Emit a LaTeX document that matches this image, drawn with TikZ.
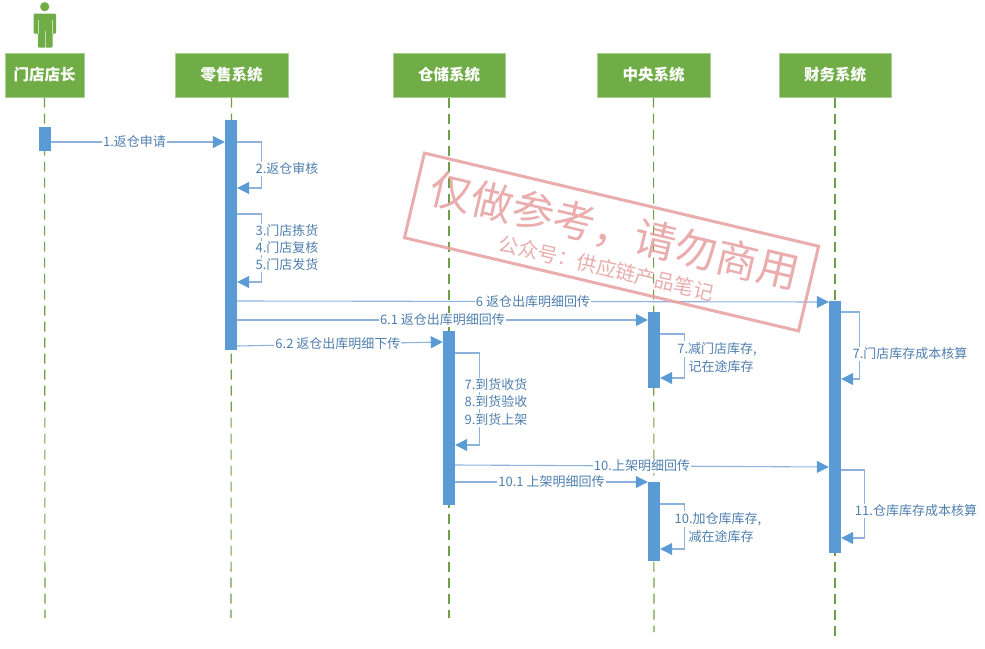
\documentclass[tikz,border=0pt]{standalone}
\usepackage{fontspec}
\setmainfont{Noto Sans CJK SC}
\usepackage{tikz}
\usetikzlibrary{positioning,arrows.meta,calc}

\definecolor{headgreen}{HTML}{70AD47}
\definecolor{headedge}{HTML}{A9CE91}
\definecolor{lifegreen}{HTML}{6E9E45}
\definecolor{barblue}{HTML}{5B9BD5}
\definecolor{msgblue}{HTML}{8DB3DD}
\definecolor{msgtext}{HTML}{4F7FAF}
\definecolor{stamppink}{HTML}{E8A3A3}

\tikzset{
    headbox/.style={rectangle, fill=headgreen, draw=headedge, line width=1pt,
        minimum height=44pt, text=white,
        font=\fontsize{15.5}{17}\selectfont\bfseries},
    lifeline/.style={draw=lifegreen, line width=1.1pt, dash pattern=on 10pt off 6pt},
    actbar/.style={rectangle, fill=barblue, minimum width=12pt, inner sep=0pt},
    msg/.style={draw=msgblue, line width=1.1pt,
        -{Triangle[length=12pt,width=12pt,color=barblue]}},
    msglabel/.style={fill=white, inner sep=1pt, text=msgtext,
        font=\fontsize{13}{15}\selectfont}
}

\begin{document}
\begin{tikzpicture}[x=1pt, y=-1pt, >=To]
\useasboundingbox (0,0) rectangle (985,648);

% Cabeceras
\node[headbox, minimum width=79pt] (store) at (44.5,75) {门店店长};
\node[headbox, minimum width=113pt] (retail) at (231.5,75) {零售系统};
\node[headbox, minimum width=112pt] (wms) at (449,75) {仓储系统};
\node[headbox, minimum width=113pt] (central) at (653.5,75) {中央系统};
\node[headbox, minimum width=112pt] (finance) at (835,75) {财务系统};

% Persona
\fill[headgreen] (44.7,6.7) circle (4.6);
\fill[headgreen, rounded corners=1pt]
    (33.5,13.5) -- (56,13.5) -- (56,33.5) -- (52.5,33.5) -- (52.5,47.5)
    -- (38,47.5) -- (38,33.5) -- (33.5,33.5) -- cycle;
\draw[white, opacity=0.6, line width=0.7pt] (45,31) -- (45,47.5);
\draw[white, opacity=0.6, line width=0.7pt] (38.2,20) -- (38.2,33.5);
\draw[white, opacity=0.6, line width=0.7pt] (52,20) -- (52,33.5);

% Lineas de vida
\coordinate (storeEnd) at (45,618);
\coordinate (retailEnd) at (231,618);
\coordinate (wmsEnd) at (449,618);
\coordinate (centralEnd) at (654,632);
\coordinate (financeEnd) at (835,638);
\draw[lifeline] (store.south) -- (storeEnd);
\draw[lifeline] (retail.south) -- (retailEnd);
\draw[lifeline] (wms.south) -- (wmsEnd);
\draw[lifeline] (central.south) -- (centralEnd);
\draw[lifeline] (finance.south) -- (financeEnd);

% Barras de activacion
\node[actbar, minimum height=24pt] (storeBar) at (45,139) {};
\node[actbar, minimum height=230pt] (retailBar) at (231,235) {};
\node[actbar, minimum height=174pt] (wmsBar) at (449,418) {};
\node[actbar, minimum height=76pt] (centralBarA) at (654,350) {};
\node[actbar, minimum height=79pt] (centralBarB) at (654,521.5) {};
\node[actbar, minimum height=252pt] (financeBar) at (835,427) {};

% Mensajes horizontales
\draw[msg] (storeBar.east |- 0,142) coordinate (m1a) -- node[msglabel, pos=0.48] {1.返仓申请}
    (retailBar.west |- 0,142) coordinate (m1b);
\draw[msg] (retailBar.east |- 0,301) coordinate (m6a) -- node[msglabel, pos=0.5] {6 返仓出库明细回传}
    (financeBar.west |- 0,302) coordinate (m6b);
\draw[msg] (retailBar.east |- 0,320) coordinate (m61a) -- node[msglabel, pos=0.5] {6.1 返仓出库明细回传}
    (centralBarA.west |- 0,320) coordinate (m61b);
\draw[msg] (retailBar.east |- 0,346) coordinate (m62a) -- node[msglabel, pos=0.49] {6.2 返仓出库明细下传}
    (wmsBar.west |- 0,342) coordinate (m62b);
\draw[msg] (wmsBar.east |- 0,465) coordinate (m10a) -- node[msglabel, pos=0.5] {10.上架明细回传}
    (financeBar.west |- 0,467) coordinate (m10b);
\draw[msg] (wmsBar.east |- 0,482) coordinate (m101a) -- node[msglabel, pos=0.5] {10.1 上架明细回传}
    (centralBarB.west |- 0,482) coordinate (m101b);

% Mensajes a si mismo
\coordinate (r2a) at (retailBar.east |- 0,142);
\coordinate (r2b) at (retailBar.east |- 0,188);
\draw[msg] (r2a) -- ++(24,0) |- (r2b);
\node[msglabel] (r2t) at (287,169) {2.返仓审核};

\coordinate (r3a) at (retailBar.east |- 0,214);
\coordinate (r3b) at (retailBar.east |- 0,282);
\draw[msg] (r3a) -- ++(24,0) |- (r3b);
\node[msglabel] (r3t) at (287,231) {3.门店拣货};
\node[msglabel] (r4t) at (287,248) {4.门店复核};
\node[msglabel] (r5t) at (287,265) {5.门店发货};

\coordinate (c7a) at (centralBarA.east |- 0,334);
\coordinate (c7b) at (centralBarA.east |- 0,378);
\draw[msg] (c7a) -- ++(24,0) |- (c7b);
\node[msglabel] (c7t) at (717,349) {7.减门店库存,};
\node[msglabel] (c7u) at (721,367) {记在途库存};

\coordinate (f7a) at (financeBar.east |- 0,312);
\coordinate (f7b) at (financeBar.east |- 0,379);
\draw[msg] (f7a) -- ++(18,0) |- (f7b);
\node[msglabel] (f7t) at (910,354) {7.门店库存成本核算};

\coordinate (w7a) at (wmsBar.east |- 0,353);
\coordinate (w7b) at (wmsBar.east |- 0,445);
\draw[msg] (w7a) -- ++(24,0) |- (w7b);
\node[msglabel] (w7t) at (496,385) {7.到货收货};
\node[msglabel] (w8t) at (496,402) {8.到货验收};
\node[msglabel] (w9t) at (496,420) {9.到货上架};

\coordinate (c10a) at (centralBarB.east |- 0,504);
\coordinate (c10b) at (centralBarB.east |- 0,549);
\draw[msg] (c10a) -- ++(24,0) |- (c10b);
\node[msglabel] (c10t) at (718,519) {10.加仓库库存,};
\node[msglabel] (c10u) at (721,537) {减在途库存};

\coordinate (f11a) at (financeBar.east |- 0,470);
\coordinate (f11b) at (financeBar.east |- 0,538);
\draw[msg] (f11a) -- ++(23,0) |- (f11b);
\node[msglabel] (f11t) at (916,511) {11.仓库库存成本核算};

% Sello
\node[draw=stamppink, line width=3pt, rotate=-13.3, minimum width=405pt,
    minimum height=87pt, inner sep=0pt, opacity=0.9] (stamp) at (611.5,242) {};
\node[rotate=-13.3, text=stamppink, opacity=0.9,
    font=\fontsize{42}{46}\selectfont] (stampBig) at (615,231) {仅做参考\symbol{"FF0C}请勿商用};
\node[rotate=-13.3, text=stamppink, opacity=0.9,
    font=\fontsize{20}{24}\selectfont] (stampSmall) at (606.5,268) {公众号\symbol{"FF1A}供应链产品笔记};

\end{tikzpicture}
\end{document}
